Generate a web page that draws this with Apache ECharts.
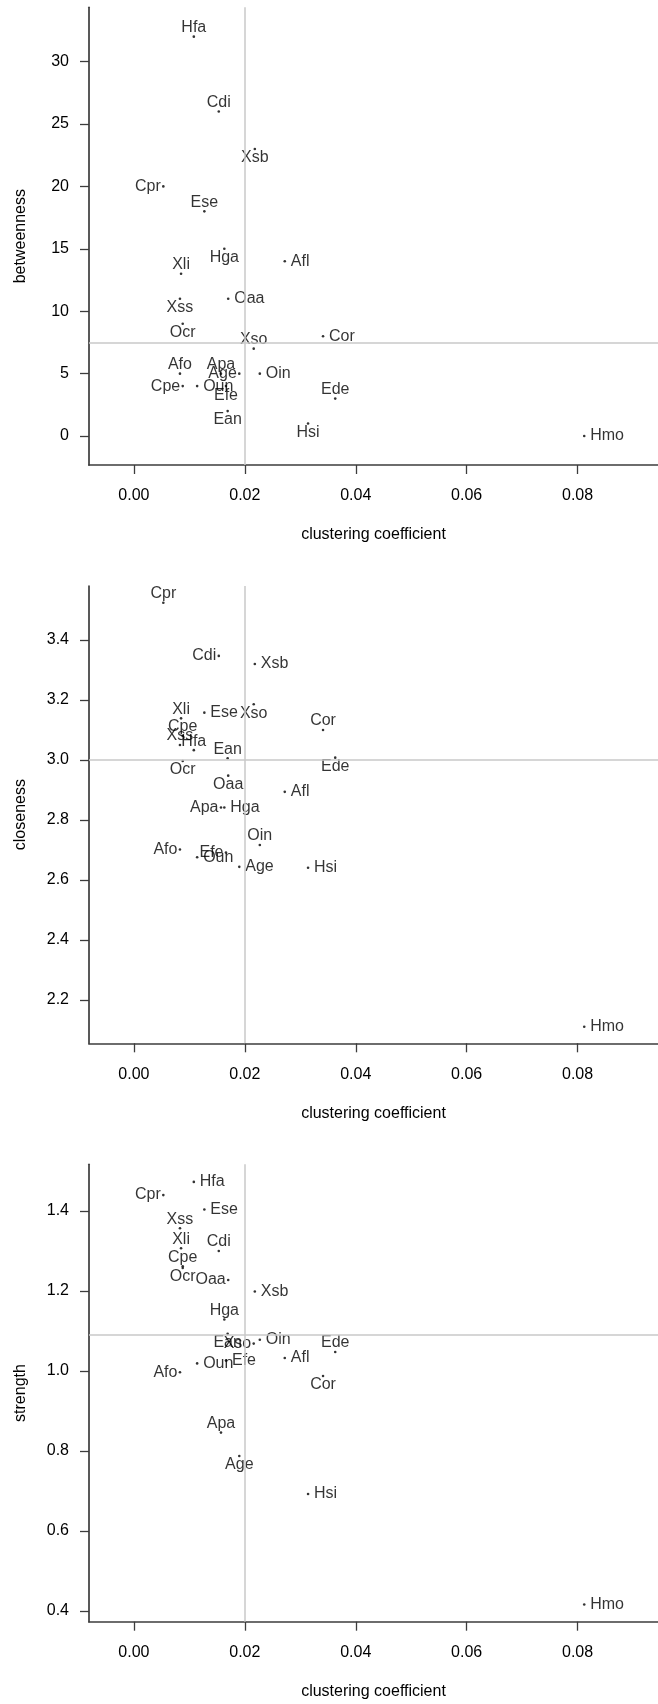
<!DOCTYPE html>
<html><head><meta charset="utf-8">
<script src="https://cdn.jsdelivr.net/npm/echarts@6/dist/echarts.min.js"></script>
<style>html,body{margin:0;padding:0;background:#fff}#c{width:658px;height:1704px}</style>
</head><body><div id="c"></div>
<script>
const species = ['Hfa','Cdi','Xsb','Cpr','Ese','Hga','Xli','Afl','Oaa','Xss','Ocr','Xso','Cor','Afo','Apa','Age','Oin','Cpe','Oun','Efe','Ean','Hsi','Ede','Hmo'];
const clustering = [0.0108,0.0153,0.0218,0.0053,0.0127,0.0163,0.0085,0.0272,0.0170,0.0083,0.0088,0.0216,0.0341,0.0083,0.0157,0.0190,0.0227,0.0088,0.0114,0.0166,0.0169,0.0314,0.0363,0.0812];
const betweenness = [32,26,23,20,18,15,13,14,11,11,9,7,8,5,5,5,5,4,4,4,2,1,3,0];
const closeness = [3.033,3.347,3.320,3.524,3.158,2.842,3.139,2.894,2.948,3.050,2.997,3.186,3.100,2.702,2.842,2.644,2.717,3.080,2.676,2.692,3.006,2.641,3.008,2.111];
const strength = [1.473,1.300,1.199,1.440,1.404,1.129,1.307,1.0325,1.2275,1.357,1.2575,1.0685,0.9875,0.997,0.846,0.7875,1.078,1.262,1.019,1.026,1.093,0.6925,1.0475,0.416];

const xTicks = [0, 0.02, 0.04, 0.06, 0.08];
const betweennessTicks = [0, 5, 10, 15, 20, 25, 30];
const closenessTicks = [2.2, 2.4, 2.6, 2.8, 3.0, 3.2, 3.4];
const strengthTicks = [0.4, 0.6, 0.8, 1.0, 1.2, 1.4];

// label side for each species (t=top, b=bottom, l=left, r=right)
const betweennessLabelSide = ['t','t','b','l','t','b','t','r','r','b','b','t','r','t','t','l','r','l','r','b','b','b','t','r'];
const closenessLabelSide   = ['t','l','r','t','r','r','t','r','b','t','b','b','t','l','l','r','t','t','r','l','t','r','b','r'];
const strengthLabelSide    = ['r','t','r','l','r','t','t','r','l','t','b','l','b','l','t','b','r','t','r','r','b','r','t','r'];

const FONT = 'Liberation Sans, Arial, Helvetica, sans-serif';
const SYM = 2.6;
const c = SYM / 2;
function sideLabel(s) {
  if (s === 't') return {position:[c, c - 9], align:'center', verticalAlign:'middle'};
  if (s === 'b') return {position:[c, c + 9], align:'center', verticalAlign:'middle'};
  if (s === 'l') return {position:[c - 2.5, c], align:'right', verticalAlign:'middle'};
  return {position:[c + 6, c], align:'left', verticalAlign:'middle'};
}
function median(a) {
  const s = a.slice().sort((p, q) => p - q);
  const n = s.length;
  return n % 2 ? s[(n - 1) / 2] : (s[n / 2 - 1] + s[n / 2]) / 2;
}

const panels = [
  {vals: betweenness, ticks: betweennessTicks, sides: betweennessLabelSide, name: 'betweenness', top: 7.3, height: 457.7, min: -2.32, max: 34.35, fmt: v => String(Math.round(v))},
  {vals: closeness, ticks: closenessTicks, sides: closenessLabelSide, name: 'closeness', top: 586, height: 457.3, min: 2.056, max: 3.58, fmt: v => v.toFixed(1)},
  {vals: strength, ticks: strengthTicks, sides: strengthLabelSide, name: 'strength', top: 1164.3, height: 457.4, min: 0.373, max: 1.517, fmt: v => v.toFixed(1)}
];

const AX = '#3c3c3c';
const TXT = '#000';
const grid = [], xAxis = [], yAxis = [], series = [];
const medX = median(clustering);
panels.forEach((p, i) => {
  grid.push({left: 89, right: 0, top: p.top, height: p.height, containLabel: false});
  xAxis.push({
    type: 'value', gridIndex: i, min: -0.0081, max: 0.0945,
    name: 'clustering coefficient', nameLocation: 'middle', nameGap: 62,
    nameTextStyle: {fontFamily: FONT, fontSize: 16, color: TXT},
    axisLine: {show: true, onZero: false, lineStyle: {color: AX, width: 1.7}},
    axisTick: {show: true, length: 9, customValues: xTicks, lineStyle: {color: AX, width: 1.3}},
    axisLabel: {customValues: xTicks, margin: 23, fontFamily: FONT, fontSize: 16, color: TXT, formatter: v => v.toFixed(2)},
    splitLine: {show: false}
  });
  yAxis.push({
    type: 'value', gridIndex: i, min: p.min, max: p.max,
    name: p.name, nameLocation: 'middle', nameGap: 60,
    nameTextStyle: {fontFamily: FONT, fontSize: 16, color: TXT},
    axisLine: {show: true, onZero: false, lineStyle: {color: AX, width: 1.7}},
    axisTick: {show: true, length: 9, customValues: p.ticks, lineStyle: {color: AX, width: 1.3}},
    axisLabel: {customValues: p.ticks, margin: 20, fontFamily: FONT, fontSize: 16, color: TXT, formatter: p.fmt},
    splitLine: {show: false}
  });
  series.push({
    type: 'scatter', xAxisIndex: i, yAxisIndex: i,
    symbol: 'circle', symbolSize: SYM,
    itemStyle: {color: '#000'},
    label: {show: true, formatter: '{b}', fontFamily: FONT, fontSize: 16, color: TXT},
    data: species.map((nm, k) => ({name: nm, value: [clustering[k], p.vals[k]], label: sideLabel(p.sides[k])})),
    markLine: {
      silent: true, symbol: ['none', 'none'], label: {show: false},
      lineStyle: {color: '#c8c8c8', width: 1.5, type: 'solid'},
      data: [{xAxis: medX}, {yAxis: median(p.vals)}]
    }
  });
});

const chart = echarts.init(document.getElementById('c'), null, {renderer: 'canvas'});
chart.setOption({animation: false, backgroundColor: '#fff', grid, xAxis, yAxis, series});
</script></body></html>
